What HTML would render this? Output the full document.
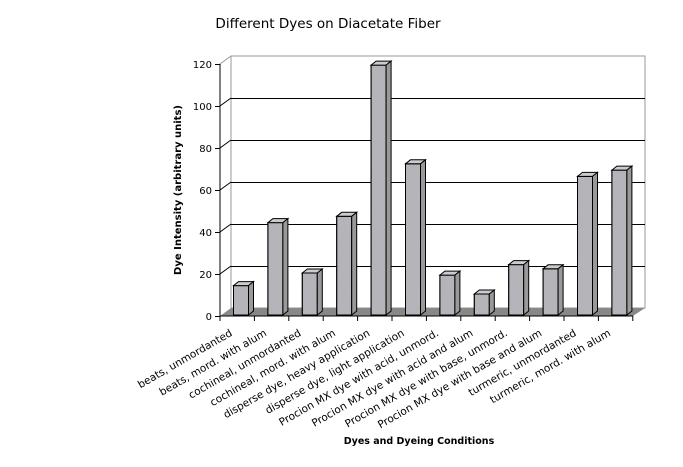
<!DOCTYPE html>
<html><head><meta charset="utf-8"><style>
html,body{margin:0;padding:0;background:#fff;}
svg{display:block;font-family:"DejaVu Sans","Liberation Sans",sans-serif;}
</style></head><body>
<svg width="683" height="467" viewBox="0 0 683 467" xmlns="http://www.w3.org/2000/svg">
<defs>
<filter id="n" x="0" y="0" width="100%" height="100%">
<feTurbulence type="fractalNoise" baseFrequency="0.9" numOctaves="2" seed="3"/>
<feColorMatrix type="matrix" values="0 0 0 0 0.45  0 0 0 0 0.45  0 0 0 0 0.5  0 0 0 -2.5 1.6"/>
<feComposite in2="SourceGraphic" operator="in"/>
</filter>
</defs>
<text x="328" y="28" font-size="13.5" text-anchor="middle">Different Dyes on Diacetate Fiber</text>
<rect x="231" y="56" width="414" height="252" fill="#fff" stroke="#999" stroke-width="1"/>
<g stroke="#000" stroke-width="1">
<line x1="231" y1="266.5" x2="645" y2="266.5"/>
<line x1="231" y1="224.5" x2="645" y2="224.5"/>
<line x1="231" y1="182.5" x2="645" y2="182.5"/>
<line x1="231" y1="140.5" x2="645" y2="140.5"/>
<line x1="231" y1="98.5" x2="645" y2="98.5"/>
<line x1="220" y1="274" x2="231" y2="266"/>
<line x1="220" y1="232" x2="231" y2="224"/>
<line x1="220" y1="190" x2="231" y2="182"/>
<line x1="220" y1="148" x2="231" y2="140"/>
<line x1="220" y1="106" x2="231" y2="98"/>
</g>
<line x1="220" y1="64" x2="231" y2="56" stroke="#999"/>
<polygon points="220,316 231,308 645,308 633,316" fill="#888"/>
<g stroke="#000" stroke-width="1">
<line x1="220" y1="64" x2="220" y2="316"/>
<line x1="220" y1="316" x2="633" y2="316"/>
<line x1="215" y1="316.5" x2="220" y2="316.5"/>
<line x1="215" y1="274.5" x2="220" y2="274.5"/>
<line x1="215" y1="232.5" x2="220" y2="232.5"/>
<line x1="215" y1="190.5" x2="220" y2="190.5"/>
<line x1="215" y1="148.5" x2="220" y2="148.5"/>
<line x1="215" y1="106.5" x2="220" y2="106.5"/>
<line x1="215" y1="64.5" x2="220" y2="64.5"/>
<line x1="220" y1="316" x2="220" y2="321"/>
<line x1="254.4" y1="316" x2="254.4" y2="321"/>
<line x1="288.8" y1="316" x2="288.8" y2="321"/>
<line x1="323.2" y1="316" x2="323.2" y2="321"/>
<line x1="357.6" y1="316" x2="357.6" y2="321"/>
<line x1="392" y1="316" x2="392" y2="321"/>
<line x1="426.4" y1="316" x2="426.4" y2="321"/>
<line x1="460.8" y1="316" x2="460.8" y2="321"/>
<line x1="495.2" y1="316" x2="495.2" y2="321"/>
<line x1="529.6" y1="316" x2="529.6" y2="321"/>
<line x1="564" y1="316" x2="564" y2="321"/>
<line x1="598.4" y1="316" x2="598.4" y2="321"/>
<line x1="632.8" y1="316" x2="632.8" y2="321"/>
</g>
<g font-size="10" text-anchor="end">
<text x="212" y="320">0</text><text x="212" y="278">20</text><text x="212" y="236">40</text>
<text x="212" y="194">60</text><text x="212" y="152">80</text><text x="212" y="110">100</text><text x="212" y="68">120</text>
</g>

<g stroke="#000" stroke-width="1">
<g transform="translate(233.5,285.6)"><rect width="15" height="29.4" fill="#b4b4b8"/><rect width="15" height="29.4" fill="#fff" filter="url(#n)" stroke="none"/><rect width="15" height="29.4" fill="none"/><polygon points="0,0 5,-4 20,-4 15,0" fill="#ccc"/><polygon points="15,0 20,-4 20,25.4 15,29.4" fill="#999"/></g>
<g transform="translate(267.9,222.6)"><rect width="15" height="92.4" fill="#b4b4b8"/><rect width="15" height="92.4" fill="#fff" filter="url(#n)" stroke="none"/><rect width="15" height="92.4" fill="none"/><polygon points="0,0 5,-4 20,-4 15,0" fill="#ccc"/><polygon points="15,0 20,-4 20,88.4 15,92.4" fill="#999"/></g>
<g transform="translate(302.3,273)"><rect width="15" height="42" fill="#b4b4b8"/><rect width="15" height="42" fill="#fff" filter="url(#n)" stroke="none"/><rect width="15" height="42" fill="none"/><polygon points="0,0 5,-4 20,-4 15,0" fill="#ccc"/><polygon points="15,0 20,-4 20,38 15,42" fill="#999"/></g>
<g transform="translate(336.7,216.3)"><rect width="15" height="98.7" fill="#b4b4b8"/><rect width="15" height="98.7" fill="#fff" filter="url(#n)" stroke="none"/><rect width="15" height="98.7" fill="none"/><polygon points="0,0 5,-4 20,-4 15,0" fill="#ccc"/><polygon points="15,0 20,-4 20,94.7 15,98.7" fill="#999"/></g>
<g transform="translate(371.1,65.1)"><rect width="15" height="249.9" fill="#b4b4b8"/><rect width="15" height="249.9" fill="#fff" filter="url(#n)" stroke="none"/><rect width="15" height="249.9" fill="none"/><polygon points="0,0 5,-4 20,-4 15,0" fill="#ccc"/><polygon points="15,0 20,-4 20,245.9 15,249.9" fill="#999"/></g>
<g transform="translate(405.5,163.8)"><rect width="15" height="151.2" fill="#b4b4b8"/><rect width="15" height="151.2" fill="#fff" filter="url(#n)" stroke="none"/><rect width="15" height="151.2" fill="none"/><polygon points="0,0 5,-4 20,-4 15,0" fill="#ccc"/><polygon points="15,0 20,-4 20,147.2 15,151.2" fill="#999"/></g>
<g transform="translate(439.9,275.1)"><rect width="15" height="39.9" fill="#b4b4b8"/><rect width="15" height="39.9" fill="#fff" filter="url(#n)" stroke="none"/><rect width="15" height="39.9" fill="none"/><polygon points="0,0 5,-4 20,-4 15,0" fill="#ccc"/><polygon points="15,0 20,-4 20,35.9 15,39.9" fill="#999"/></g>
<g transform="translate(474.3,294)"><rect width="15" height="21" fill="#b4b4b8"/><rect width="15" height="21" fill="#fff" filter="url(#n)" stroke="none"/><rect width="15" height="21" fill="none"/><polygon points="0,0 5,-4 20,-4 15,0" fill="#ccc"/><polygon points="15,0 20,-4 20,17 15,21" fill="#999"/></g>
<g transform="translate(508.7,264.6)"><rect width="15" height="50.4" fill="#b4b4b8"/><rect width="15" height="50.4" fill="#fff" filter="url(#n)" stroke="none"/><rect width="15" height="50.4" fill="none"/><polygon points="0,0 5,-4 20,-4 15,0" fill="#ccc"/><polygon points="15,0 20,-4 20,46.4 15,50.4" fill="#999"/></g>
<g transform="translate(543.1,268.8)"><rect width="15" height="46.2" fill="#b4b4b8"/><rect width="15" height="46.2" fill="#fff" filter="url(#n)" stroke="none"/><rect width="15" height="46.2" fill="none"/><polygon points="0,0 5,-4 20,-4 15,0" fill="#ccc"/><polygon points="15,0 20,-4 20,42.2 15,46.2" fill="#999"/></g>
<g transform="translate(577.5,176.4)"><rect width="15" height="138.6" fill="#b4b4b8"/><rect width="15" height="138.6" fill="#fff" filter="url(#n)" stroke="none"/><rect width="15" height="138.6" fill="none"/><polygon points="0,0 5,-4 20,-4 15,0" fill="#ccc"/><polygon points="15,0 20,-4 20,134.6 15,138.6" fill="#999"/></g>
<g transform="translate(611.9,170.1)"><rect width="15" height="144.9" fill="#b4b4b8"/><rect width="15" height="144.9" fill="#fff" filter="url(#n)" stroke="none"/><rect width="15" height="144.9" fill="none"/><polygon points="0,0 5,-4 20,-4 15,0" fill="#ccc"/><polygon points="15,0 20,-4 20,140.9 15,144.9" fill="#999"/></g>
</g>

<g font-size="10.5" text-anchor="end">
<text transform="translate(233,335) rotate(-30)">beats, unmordanted</text>
<text transform="translate(267.4,335) rotate(-30)">beats, mord. with alum</text>
<text transform="translate(301.8,335) rotate(-30)">cochineal, unmordanted</text>
<text transform="translate(336.2,335) rotate(-30)">cochineal, mord. with alum</text>
<text transform="translate(370.6,335) rotate(-30)">disperse dye, heavy application</text>
<text transform="translate(405,335) rotate(-30)">disperse dye, light application</text>
<text transform="translate(439.4,335) rotate(-30)">Procion MX dye with acid, unmord.</text>
<text transform="translate(473.8,335) rotate(-30)">Procion MX dye with acid and alum</text>
<text transform="translate(508.2,335) rotate(-30)">Procion MX dye with base, unmord.</text>
<text transform="translate(542.6,335) rotate(-30)">Procion MX dye with base and alum</text>
<text transform="translate(577,335) rotate(-30)">turmeric, unmordanted</text>
<text transform="translate(611.4,335) rotate(-30)">turmeric, mord. with alum</text>
</g>
<text transform="translate(181,190) rotate(-90)" font-size="10" font-weight="bold" text-anchor="middle">Dye Intensity (arbitrary units)</text>
<text x="419" y="444" font-size="9.5" font-weight="bold" text-anchor="middle">Dyes and Dyeing Conditions</text>
</svg>
</body></html>
